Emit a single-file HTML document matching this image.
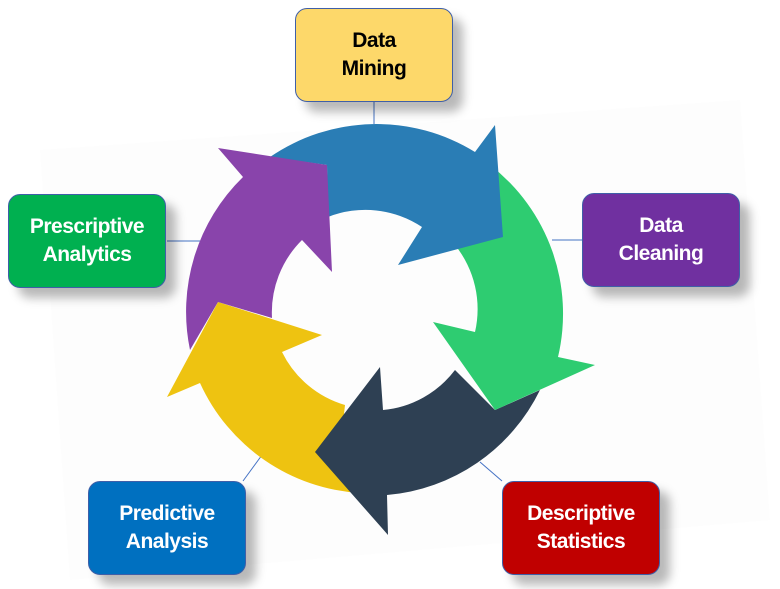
<!DOCTYPE html>
<html><head><meta charset="utf-8"><style>
html,body{margin:0;padding:0;background:#fff;}
body{width:780px;height:589px;position:relative;overflow:hidden;}
.bx{position:absolute;width:158px;height:94px;border-radius:12px;border:1px solid #3f5fa8;box-sizing:border-box;
display:flex;align-items:center;justify-content:center;text-align:center;color:#fff;
font-family:"Liberation Sans Narrow","Liberation Sans",sans-serif;font-weight:bold;font-size:21px;line-height:28px;letter-spacing:-0.5px;
box-shadow:10px 10px 10px rgba(0,0,0,0.28);}
svg{position:absolute;left:0;top:0;}
</style></head><body>
<svg width="780" height="589" viewBox="0 0 780 589">
<polygon points="40,150 740,100 770,520 70,580" fill="#fdfdfd"/>
<g stroke="#4472c4" stroke-width="1">
<line x1="374" y1="102" x2="374" y2="124"/>
<line x1="167" y1="241" x2="200" y2="241"/>
<line x1="552" y1="240" x2="582" y2="240"/>
<line x1="262" y1="455" x2="243" y2="481"/>
<line x1="480" y1="462" x2="502" y2="481"/>
</g>
<path d="M360,493 A188,188 0 0 1 200,383 L167,397 L218,302 L322,335 L282,352 A102,102 0 0 0 345,405 L340,450 Z" fill="#eec311"/>
<path d="M540,390 A188,188 0 0 1 387,495 L388,535 L315,452 L380,367 L383,410 A102,102 0 0 0 455,370 L495,410 Z" fill="#2e4053"/>
<path d="M490,165 A188,188 0 0 1 558,357 L595,365 L495,410 L433,322 L475,332 A102,102 0 0 0 455,245 L500,200 Z" fill="#2ecc71"/>
<path d="M270,157 A188,188 0 0 1 475,152 L495,125 L503,237 L398,265 L422,227 A102,102 0 0 0 328,217 L327,165 Z" fill="#2a7db5"/>
<path d="M190,350 A188,188 0 0 1 243,177 L218,148 L327,165 L332,272 L302,240 A102,102 0 0 0 272,318 L218,302 Z" fill="#8944ab"/>
</svg>
<div class="bx" style="left:295px;top:8px;background:#fdd86a;color:#000;">Data<br>Mining</div>
<div class="bx" style="left:582px;top:193px;background:#7030a0;">Data<br>Cleaning</div>
<div class="bx" style="left:8px;top:194px;background:#00b050;">Prescriptive<br>Analytics</div>
<div class="bx" style="left:88px;top:481px;background:#0070c0;">Predictive<br>Analysis</div>
<div class="bx" style="left:502px;top:481px;background:#c00000;">Descriptive<br>Statistics</div>
</body></html>
